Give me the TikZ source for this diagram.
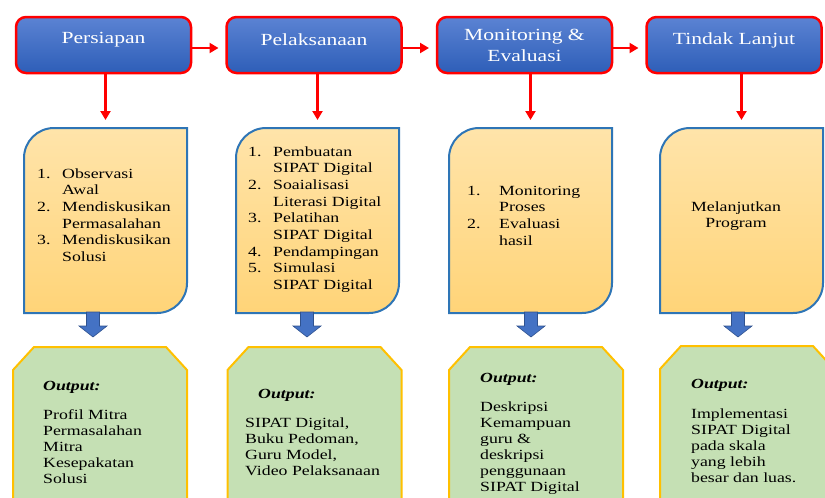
\documentclass[tikz,border=0pt]{standalone}
\usepackage{fontspec}
\setmainfont[FakeStretch=1.27]{Liberation Serif}
\usetikzlibrary{arrows.meta}

\definecolor{headtop}{HTML}{5B83D3}
\definecolor{headbot}{HTML}{2E5EB8}
\definecolor{midtop}{HTML}{FFE4AA}
\definecolor{midbot}{HTML}{FFD478}
\definecolor{midline}{HTML}{2E75B6}
\definecolor{outfill}{HTML}{C5E0B4}
\definecolor{outline}{HTML}{FFC000}
\definecolor{blockfill}{HTML}{4472C4}
\definecolor{blockline}{HTML}{2F528F}

\tikzset{
  head/.style={draw=red, line width=2.5pt, rounded corners=10pt,
    top color=headtop, bottom color=headbot,
    minimum width=175pt, minimum height=56pt, outer sep=0pt},
  headtxt/.style={text=white, font=\fontsize{17}{21}\selectfont, align=center, inner sep=0pt},
  frame/.style={minimum width=163pt, minimum height=185pt, inner sep=0pt, outer sep=0pt},
  outframe/.style={minimum width=174pt, minimum height=213pt, inner sep=0pt, outer sep=0pt},
  midbox/.style={draw=midline, line width=2pt, top color=midtop, bottom color=midbot},
  outbox/.style={draw=outline, line width=2pt, fill=outfill},
  blockarr/.style={draw=blockline, line width=0.6pt, fill=blockfill},
  redarr/.style={red, line width=2.5pt, -{Triangle[width=10pt,length=9pt]}, shorten >=8pt},
  bodytxt/.style={font=\fontsize{14}{16.7}\selectfont, inner sep=0pt, anchor=base west},
  outtxt/.style={font=\fontsize{14}{15.9}\selectfont, inner sep=0pt, anchor=base west}
}

\begin{document}
\begin{tikzpicture}[x=1pt, y=-1pt]
  \useasboundingbox (0,0) rectangle (825,498);
  \clip (0,0) rectangle (825,498);

  % top row
  \node[head] (h1) at (103.5,45) {};
  \node[head] (h2) at (314,45) {};
  \node[head] (h3) at (524.5,45) {};
  \node[head] (h4) at (734,45) {};
  \node[headtxt] (l1) at ([yshift=5pt]h1.center) {Persiapan};
  \node[headtxt] (l2) at ([yshift=5pt]h2.center) {Pelaksanaan};
  \node[headtxt] (l3) at ([yshift=0pt]h3.center) {Monitoring \&\\Evaluasi};
  \node[headtxt] (l4) at ([yshift=5pt]h4.center) {Tindak Lanjut};

  % middle row
  \node[frame] (m1) at (105.5,220.5) {};
  \node[frame] (m2) at (317.5,220.5) {};
  \node[frame] (m3) at (530.5,220.5) {};
  \node[frame] (m4) at (741.5,220.5) {};
  \foreach \m in {m1,m2,m3,m4}
    \draw[midbox] (\m.west) [rounded corners=30pt] -- (\m.north west) -- (\m.north)
      [sharp corners] -- (\m.north east) -- (\m.east)
      [rounded corners=30pt] -- (\m.south east) -- (\m.south)
      [sharp corners] -- (\m.south west) -- cycle;

  % bottom row
  \node[outframe] (o1) at (100,453.5) {};
  \node[outframe] (o2) at (314.5,453.5) {};
  \node[outframe] (o3) at (536,453.5) {};
  \node[outframe] (o4) at (747,452.5) {};
  \foreach \o in {o1,o2,o3,o4}
    \draw[outbox] (\o.south west) -- ([yshift=-23pt]\o.north west)
      -- ([xshift=21pt]\o.north west) -- ([xshift=-21pt]\o.north east)
      -- ([yshift=-23pt]\o.north east) -- (\o.south east) -- cycle;

  % arrows
  \draw[redarr] ([yshift=-3pt]h1.east) -- ([yshift=-3pt]h2.west);
  \draw[redarr] ([yshift=-3pt]h2.east) -- ([yshift=-3pt]h3.west);
  \draw[redarr] ([yshift=-3pt]h3.east) -- ([yshift=-3pt]h4.west);
  \foreach \i in {1,2,3,4}
    \draw[redarr] (m\i.north |- h\i.south) -- (m\i.north);
  \foreach \x in {93,307,531,738}
    \draw[blockarr] (\x-6.5,312) -- (\x+6.5,312) -- (\x+6.5,326) -- (\x+14,326)
      -- (\x,337) -- (\x-14,326) -- (\x-6.5,326) -- cycle;

  % texts
  \node[bodytxt] (t1) at (37,178) {\begin{tabular}[t]{@{}p{25pt}@{}l@{}}
    1. & Observasi\\ & Awal\\ 2. & Mendiskusikan\\ & Permasalahan\\
    3. & Mendiskusikan\\ & Solusi\end{tabular}};
  \node[bodytxt] (t2) at (248,156) {\begin{tabular}[t]{@{}p{25pt}@{}l@{}}
    1. & Pembuatan\\ & SIPAT Digital\\ 2. & Soaialisasi\\ & Literasi Digital\\
    3. & Pelatihan\\ & SIPAT Digital\\ 4. & Pendampingan\\ 5. & Simulasi\\
    & SIPAT Digital\end{tabular}};
  \node[bodytxt] (t3) at (467,195) {\begin{tabular}[t]{@{}p{32pt}@{}l@{}}
    1. & Monitoring\\ & Proses\\ 2. & Evaluasi\\ & hasil\end{tabular}};
  \node[bodytxt, anchor=base] (t4) at (736,211) {\begin{tabular}[t]{@{}c@{}}
    Melanjutkan\\ Program\end{tabular}};

  \node[outtxt] (u1) at (43,390) {\begin{tabular}[t]{@{}l@{}}
    \textbf{\textit{Output:}}\\[14pt] Profil Mitra\\ Permasalahan\\ Mitra\\
    Kesepakatan\\ Solusi\end{tabular}};
  \node[outtxt] (u2) at (245,398) {\begin{tabular}[t]{@{}l@{}}
    \hspace*{13pt}\textbf{\textit{Output:}}\\[14pt] SIPAT Digital,\\ Buku Pedoman,\\
    Guru Model,\\ Video Pelaksanaan\end{tabular}};
  \node[outtxt] (u3) at (480,382) {\begin{tabular}[t]{@{}l@{}}
    \textbf{\textit{Output:}}\\[14pt] Deskripsi\\ Kemampuan\\ guru \&\\
    deskripsi\\ penggunaan\\ SIPAT Digital\end{tabular}};
  \node[outtxt] (u4) at (691,388) {\begin{tabular}[t]{@{}l@{}}
    \textbf{\textit{Output:}}\\[15pt] Implementasi\\ SIPAT Digital\\ pada skala\\
    yang lebih\\ besar dan luas.\end{tabular}};
\end{tikzpicture}
\end{document}
